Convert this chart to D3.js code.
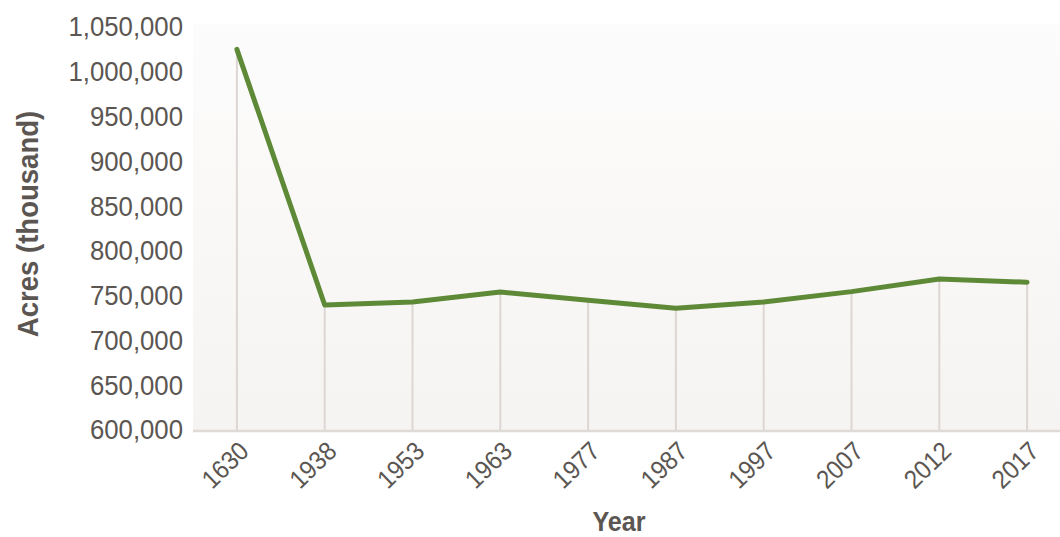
<!DOCTYPE html>
<html>
<head>
<meta charset="utf-8">
<script src="https://cdn.jsdelivr.net/npm/d3@7"></script>
<style>
body { margin: 0; background: #fff; }
svg text { font-family: "Liberation Sans", Arial, sans-serif; }
</style>
</head>
<body>
<svg id="chart" width="1060" height="537"></svg>
<script>
var years = ["1630", "1938", "1953", "1963", "1977", "1987", "1997", "2007", "2012", "2017"];
var acres = [1025000, 739600, 743000, 754000, 745000, 736000, 743000, 754500, 768600, 765000];
var yTicks = [600000, 650000, 700000, 750000, 800000, 850000, 900000, 950000, 1000000, 1050000];

var svg = d3.select("svg#chart");
var plotLeft = 193, plotRight = 1071, plotTop = 27, plotBottom = 430;

var x = d3.scalePoint().domain(years).range([plotLeft, plotRight]).padding(0.5);
var y = d3.scaleLinear().domain([600000, 1050000]).range([plotBottom, plotTop]);

// panel background
var grad = svg.append("defs").append("linearGradient")
    .attr("id", "bg").attr("x1", 0).attr("y1", 0).attr("x2", 0).attr("y2", 1);
grad.append("stop").attr("offset", "0%").attr("stop-color", "#fdfcfc");
grad.append("stop").attr("offset", "50%").attr("stop-color", "#f9f8f7");
grad.append("stop").attr("offset", "100%").attr("stop-color", "#f5f4f3");

svg.append("rect")
    .attr("x", plotLeft).attr("y", 24)
    .attr("width", 1060 - plotLeft).attr("height", plotBottom - 24)
    .attr("fill", "url(#bg)");

// drop lines
svg.append("g").selectAll("line")
    .data(years)
    .enter().append("line")
    .attr("x1", function(d) { return x(d); })
    .attr("x2", function(d) { return x(d); })
    .attr("y1", function(d, i) { return y(acres[i]); })
    .attr("y2", plotBottom)
    .attr("stroke", "#ddd6d3")
    .attr("stroke-width", 2);

// baseline
svg.append("line")
    .attr("x1", plotLeft).attr("x2", 1060)
    .attr("y1", plotBottom + 1).attr("y2", plotBottom + 1)
    .attr("stroke", "#e0dad7")
    .attr("stroke-width", 2.5);

// y axis
var yAxis = d3.axisLeft(y).tickValues(yTicks).tickSize(0).tickPadding(0)
    .tickFormat(d3.format(","));
var gy = svg.append("g").attr("transform", "translate(183,0) scale(0.92,1)").call(yAxis);
gy.select(".domain").remove();
gy.selectAll("text")
    .attr("fill", "#5b5652")
    .style("font-size", "28px");

// x axis
var xAxis = d3.axisBottom(x).tickSize(0).tickPadding(0);
var gx = svg.append("g").attr("transform", "translate(0," + plotBottom + ")").call(xAxis);
gx.select(".domain").remove();
gx.selectAll("text")
    .attr("fill", "#5b5652")
    .style("font-size", "26px")
    .style("text-anchor", "end")
    .attr("y", 0)
    .attr("dy", 0)
    .attr("transform", "translate(13,23) rotate(-44) scale(0.92,1)");

// line
var line = d3.line()
    .x(function(d, i) { return x(years[i]); })
    .y(function(d) { return y(d); });

svg.append("path")
    .datum(acres)
    .attr("d", line)
    .attr("fill", "none")
    .attr("stroke", "#5e8a38")
    .attr("stroke-width", 5)
    .attr("stroke-linejoin", "round")
    .attr("stroke-linecap", "round");

// titles
svg.append("text")
    .attr("transform", "translate(619,531) scale(0.9,1)")
    .attr("text-anchor", "middle")
    .attr("fill", "#5b5652")
    .style("font-size", "28px")
    .style("font-weight", "bold")
    .text("Year");

svg.append("text")
    .attr("transform", "translate(38,224) rotate(-90) scale(0.95,1)")
    .attr("text-anchor", "middle")
    .attr("fill", "#5b5652")
    .style("font-size", "29px")
    .style("font-weight", "bold")
    .text("Acres (thousand)");
</script>
</body>
</html>
